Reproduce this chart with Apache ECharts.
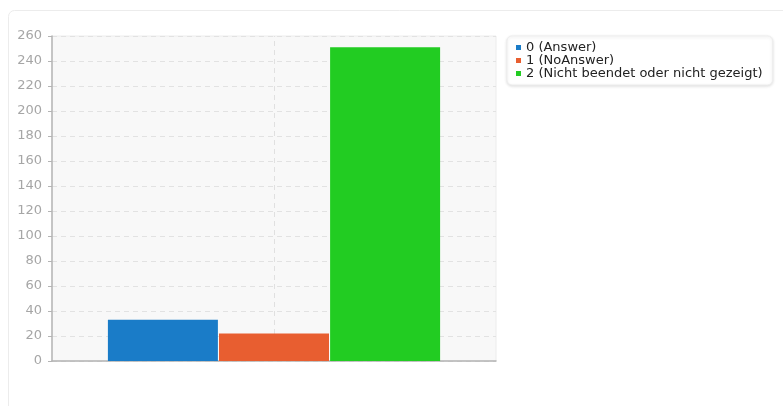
<!DOCTYPE html>
<html>
<head>
<meta charset="utf-8">
<script src="https://cdn.jsdelivr.net/npm/echarts@6/dist/echarts.min.js"></script>
<style>
html,body{margin:0;padding:0;background:#fff;}
#chart{width:783px;height:406px;}
</style>
</head>
<body>
<div id="chart"></div>
<script>
var categories = ['Frage'];
var seriesNames = ['0 (Answer)', '1 (NoAnswer)', '2 (Nicht beendet oder nicht gezeigt)'];
var seriesValues = [[33], [22], [251]];
var seriesColors = ['#1a7cc8', '#e85e30', '#22cc22'];
var yTicks = {min: 0, max: 260, interval: 20};

var chart = echarts.init(document.getElementById('chart'), null, {renderer: 'canvas'});

var series = seriesNames.map(function (name, i) {
  return {
    name: name,
    type: 'bar',
    data: seriesValues[i],
    barWidth: 110,
    barGap: '1%',
    z: 3,
    itemStyle: {color: seriesColors[i]},
    emphasis: {disabled: true}
  };
});
// vertical dashed gridline at the category centre
series.push({
  name: '_grid',
  type: 'line',
  data: [],
  z: 1,
  silent: true,
  markLine: {
    z: 1,
    silent: true,
    symbol: 'none',
    label: {show: false},
    lineStyle: {color: '#e0e0e0', type: [5, 4], width: 1},
    data: [{xAxis: categories[0]}]
  }
});

chart.setOption({
  animation: false,
  backgroundColor: '#ffffff',
  graphic: [{
    type: 'rect',
    shape: {x: 8.5, y: 10.5, width: 800, height: 420, r: 6},
    style: {fill: 'none', stroke: '#ececec', lineWidth: 1},
    silent: true, z: -1
  }],
  grid: {
    left: 52, right: 287, top: 36, bottom: 45,
    show: true,
    backgroundColor: '#f8f8f8',
    borderColor: '#ececec',
    borderWidth: 1
  },
  legend: {
    orient: 'vertical',
    left: 507, top: 36,
    padding: [5, 10, 5, 9],
    backgroundColor: '#ffffff',
    borderColor: '#eeeeee',
    borderWidth: 1,
    borderRadius: 5,
    shadowColor: 'rgba(0,0,0,0.12)',
    shadowBlur: 3,
    shadowOffsetY: 1,
    icon: 'rect',
    itemWidth: 5,
    itemHeight: 5,
    itemGap: 0,
    textStyle: {fontFamily: 'DejaVu Sans', fontSize: 13, color: '#222', lineHeight: 13},
    data: seriesNames
  },
  xAxis: {
    type: 'category',
    data: categories,
    axisLine: {lineStyle: {color: '#b4b4b4', width: 1.5}},
    axisTick: {show: false},
    axisLabel: {show: false},
    splitLine: {show: false}
  },
  yAxis: {
    type: 'value',
    min: yTicks.min, max: yTicks.max, interval: yTicks.interval,
    axisLine: {show: true, lineStyle: {color: '#b4b4b4', width: 1.5}},
    axisTick: {show: true, length: 4, lineStyle: {color: '#b4b4b4'}},
    axisLabel: {color: '#a6a6a6', fontFamily: 'DejaVu Sans', fontSize: 13, margin: 10},
    splitLine: {show: true, lineStyle: {color: '#e2e2e2', type: [5, 4]}}
  },
  series: series
});
</script>
</body>
</html>
